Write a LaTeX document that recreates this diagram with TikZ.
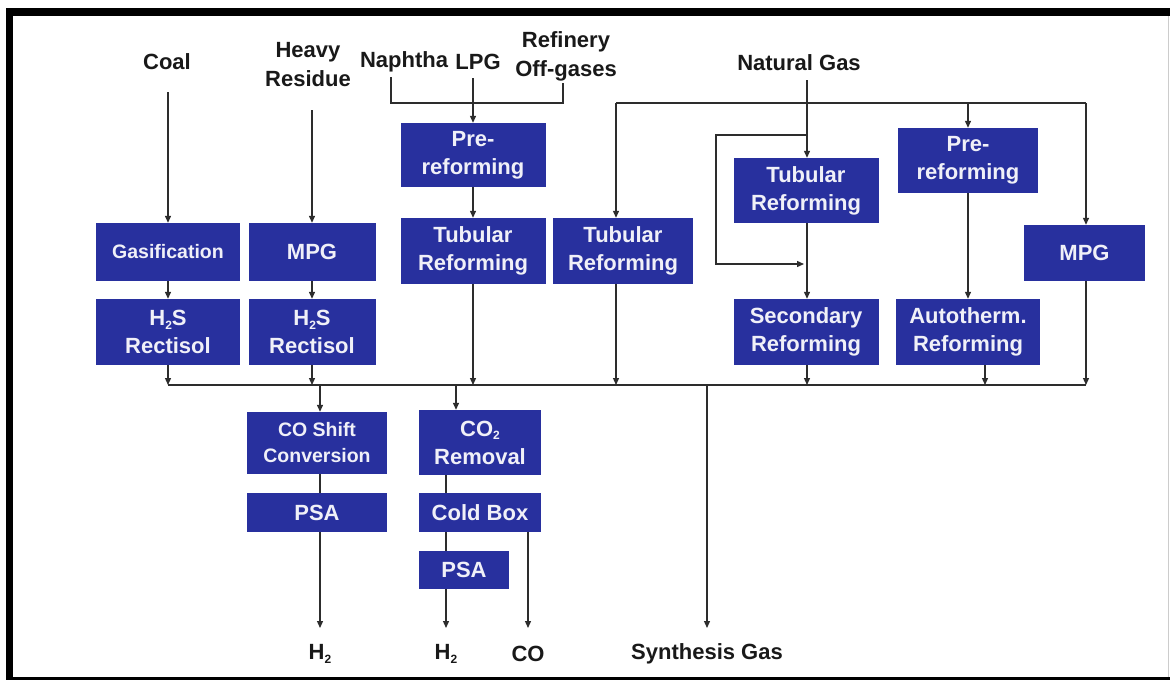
\documentclass[tikz,border=0pt]{standalone}
\usepackage{fontspec}
\setmainfont{Liberation Sans}
\usetikzlibrary{arrows.meta,calc}
\definecolor{boxblue}{RGB}{40,48,158}
\definecolor{lncol}{RGB}{45,45,45}
\definecolor{txtcol}{RGB}{25,25,25}
\newcommand\mysub[1]{\raisebox{-0.3ex}{\fontsize{12}{12}\selectfont #1}}
\begin{document}
\begin{tikzpicture}[x=1pt,y=-1pt,
  bx/.style={fill=boxblue,text={rgb,255:red,240;green,240;blue,248},font=\fontsize{22}{28}\selectfont\bfseries,align=center,inner sep=0pt,anchor=center},
  smalltext/.style={font=\fontsize{19.5}{26}\selectfont\bfseries},
  lbl/.style={text=txtcol,font=\fontsize{22}{29}\selectfont\bfseries,align=center,inner sep=0pt},
  ar/.style={draw=lncol,line width=1.3pt,-{Triangle[length=7pt,width=6pt]}},
  plain/.style={draw=lncol,line width=1.3pt}]
% canvas and frame
\useasboundingbox (0,0) rectangle (1170,680);
\fill[white] (0,0) rectangle (1170,680);
\fill[black] (6,8) rectangle (13,680);
\fill[black] (6,8) rectangle (1170,16);
\fill[black] (6,677) rectangle (1170,680);
\draw[gray!40,line width=1pt] (1168.5,16) -- (1168.5,677);

% feed labels
\node[lbl] (coal) at (167,62) {Coal};
\node[lbl] (heavy) at (308,65) {Heavy\\Residue};
\node[lbl] (naph) at (404,62) {Naphtha};
\node[lbl] (lpg) at (478,62) {LPG};
\node[lbl] (ref) at (566,56) {Refinery\\Off-gases};
\node[lbl] (ng) at (799,63) {Natural Gas};

% boxes
\node[bx,smalltext,minimum width=144pt,minimum height=58pt] (gas) at (168,252) {Gasification};
\node[bx,minimum width=127pt,minimum height=58pt] (mpga) at (312,252) {MPG};
\node[bx,minimum width=144pt,minimum height=66pt] (hsa) at (168,332) {H\mysub{2}S\\Rectisol};
\node[bx,minimum width=127pt,minimum height=66pt] (hsb) at (312,332) {H\mysub{2}S\\Rectisol};
\node[bx,minimum width=145pt,minimum height=64pt] (prea) at (473,155) {Pre-\\reforming};
\node[bx,minimum width=145pt,minimum height=66pt] (tuba) at (473,251) {Tubular\\Reforming};
\node[bx,minimum width=140pt,minimum height=66pt] (tubb) at (623,251) {Tubular\\Reforming};
\node[bx,minimum width=145pt,minimum height=65pt] (tubc) at (806,190.5) {Tubular\\Reforming};
\node[bx,minimum width=140pt,minimum height=65pt] (preb) at (968,160.5) {Pre-\\reforming};
\node[bx,minimum width=121pt,minimum height=56pt] (mpgb) at (1084.5,253) {MPG};
\node[bx,minimum width=145pt,minimum height=66pt] (sec) at (806,332) {Secondary\\Reforming};
\node[bx,minimum width=144pt,minimum height=66pt] (auto) at (968,332) {Autotherm.\\Reforming};
\node[bx,smalltext,minimum width=140pt,minimum height=62pt] (shift) at (317,443) {CO Shift\\Conversion};
\node[bx,minimum width=140pt,minimum height=39pt] (psaa) at (317,512.5) {PSA};
\node[bx,minimum width=122pt,minimum height=65pt] (co2) at (480,442.5) {CO\mysub{2}\\Removal};
\node[bx,minimum width=122pt,minimum height=39pt] (cold) at (480,512.5) {Cold Box};
\node[bx,minimum width=90pt,minimum height=38pt] (psab) at (464,570) {PSA};

% output labels
\node[lbl] (hout1) at (320,654) {H\mysub{2}};
\node[lbl] (hout2) at (446,654) {H\mysub{2}};
\node[lbl] (coout) at (528,654) {CO};
\node[lbl] (syn) at (707,654) {Synthesis Gas};

% coordinates
\coordinate (coalS) at (168,92);
\coordinate (heavyS) at (312,110);
\coordinate (naphS) at (391,77);
\coordinate (refS) at (563,83);
\coordinate (lpgS) at (473,78);
\coordinate (ngS) at (807,80);
\coordinate (busL) at (168,385);
\coordinate (busR) at (1086,385);
\coordinate (topL) at (616,103);
\coordinate (topR) at (1086,103);
\coordinate (loopA) at (807,135);
\coordinate (loopB) at (716,135);
\coordinate (loopC) at (716,264);
\coordinate (loopD) at (804,264);
\coordinate (endA) at (320,628);
\coordinate (endB) at (446,628);
\coordinate (endC) at (528,628);
\coordinate (endD) at (707,628);

% coal / heavy residue
\draw[ar] (coalS) -- (gas.north);
\draw[ar] (gas) -- (hsa);
\draw[ar] (hsa.south) -- (busL);
\draw[ar] (heavyS) -- (mpga.north);
\draw[ar] (mpga) -- (hsb);
\draw[ar] (hsb.south) -- (hsb.south |- busL);

% naphtha / LPG / refinery
\draw[plain] (naphS) -- (naphS |- 0,103) -- (refS |- 0,103) -- (refS);
\draw[ar] (lpgS) -- (prea.north);
\draw[ar] (prea) -- (tuba);
\draw[ar] (tuba.south) -- (tuba.south |- busL);

% natural gas
\draw[ar] (ngS) -- (tubc.north -| ngS);
\draw[plain] (topL) -- (topR);
\draw[ar] (topL) -- (topL |- tubb.north);
\draw[ar] (topR) -- (topR |- mpgb.north);
\draw[ar] (preb.north |- topL) -- (preb.north);
\draw[ar] (loopA) -- (loopB) -- (loopC) -- (loopD);
\draw[ar] (tubc.south -| ngS) -- (sec.north -| ngS);
\draw[ar] (preb.south) -- (auto.north);
\draw[ar] (tubb.south -| topL) -- (topL |- busL);
\draw[ar] (sec.south -| ngS) -- (ngS |- busL);
\draw[ar] ([xshift=17pt]auto.south) -- ([xshift=17pt]auto.south |- busL);
\draw[ar] (mpgb.south -| topR) -- (busR);

% bus
\draw[plain] (busL) -- (busR);

% products
\draw[ar] (busL -| endA) -- (shift.north -| endA);
\draw[plain] (shift.south -| endA) -- (psaa.north -| endA);
\draw[ar] (psaa.south -| endA) -- (endA);
\draw[ar] (busL -| 456,0) -- (co2.north -| 456,0);
\draw[plain] (co2.south -| endB) -- (cold.north -| endB);
\draw[plain] (cold.south -| endB) -- (psab.north -| endB);
\draw[ar] (psab.south -| endB) -- (endB);
\draw[ar] (cold.south -| endC) -- (endC);
\draw[ar] (busL -| endD) -- (endD);
\end{tikzpicture}
\end{document}
